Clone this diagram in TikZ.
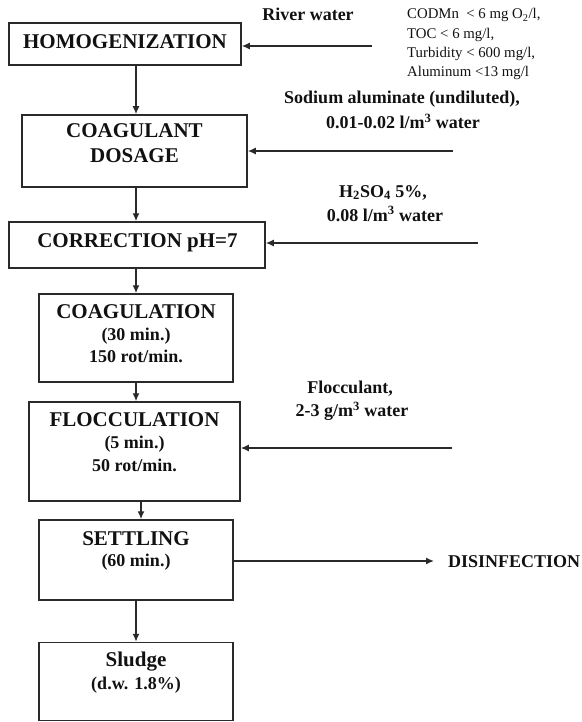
\documentclass[tikz,border=0pt]{standalone}
\usepackage{fontspec}
\setmainfont{Liberation Serif}
\usetikzlibrary{arrows.meta}
\definecolor{linec}{HTML}{2A2A2A}
\definecolor{txtc}{HTML}{111111}
\begin{document}
\begin{tikzpicture}[x=1pt,y=-1pt,
  box/.style 2 args={draw=linec, line width=1.5pt, rectangle, minimum width=#1, minimum height=#2, inner sep=0pt},
  ttl/.style={anchor=base, inner sep=0pt, text=txtc, font=\bfseries\fontsize{21}{24}\selectfont},
  sub/.style={anchor=base, inner sep=0pt, text=txtc, font=\bfseries\fontsize{18}{22}\selectfont},
  lbl/.style={anchor=base, inner sep=0pt, text=txtc, font=\bfseries\fontsize{18}{22}\selectfont},
  cond/.style={anchor=base west, inner sep=0pt, text=txtc, font=\fontsize{14.8}{18}\selectfont},
  arr/.style={draw=linec, line width=1.4pt, -{Latex[length=8pt,width=7pt]}}]
\useasboundingbox (0,0) rectangle (581,722);

% boxes
\node[box={232pt}{42pt}] (homog) at (125,44) {};
\node[box={225pt}{72pt}] (coag) at (134.5,151) {};
\node[box={256pt}{46pt}] (corr) at (137,245) {};
\node[box={194pt}{88pt}] (coagul) at (136,338) {};
\node[box={211pt}{99pt}] (flocc) at (134.5,451.5) {};
\node[box={194pt}{80pt}] (settl) at (136,560) {};
\node[box={194pt}{78pt}] (sludge) at (136,681.5) {};

% box texts
\node[ttl] (homogT) at (125,48.5) {HOMOGENIZATION};
\node[ttl] (coagT1) at (134.5,138) {COAGULANT};
\node[ttl] (coagT2) at (134.5,163) {DOSAGE};
\node[ttl] (corrT) at (137.5,247) {CORRECTION pH=7};
\node[ttl] (coagulT1) at (136,318) {COAGULATION};
\node[sub] (coagulT2) at (136,340.5) {(30 min.)};
\node[sub] (coagulT3) at (136,362.5) {150 rot/min.};
\node[ttl] (floccT1) at (134.5,426) {FLOCCULATION};
\node[sub] (floccT2) at (134.5,448.5) {(5 min.)};
\node[sub] (floccT3) at (134.5,471) {50 rot/min.};
\node[ttl] (settlT1) at (136,545) {SETTLING};
\node[sub] (settlT2) at (136,566.5) {(60 min.)};
\node[ttl] (sludgeT1) at (136,666.5) {Sludge};
\node[sub] (sludgeT2) at (136,689) {(d.w. 1.8\%)};

% input labels
\node[lbl] (river) at (308,20.5) {River water};
\node[cond] (c1) at (407,19) {CODMn\ \ {<} 6 mg O\textsubscript{2}/l,};
\node[cond] (c2) at (407,38.3) {TOC {<} 6 mg/l,};
\node[cond] (c3) at (407,57.6) {Turbidity {<} 600 mg/l,};
\node[cond] (c4) at (407,77) {Aluminum {<}13 mg/l};
\node[lbl] (sod1) at (402,104) {Sodium aluminate (undiluted),};
\node[lbl] (sod2) at (403,128.5) {0.01-0.02 l/m\textsuperscript{3} water};
\node[lbl] (acid1) at (383,197) {H\textsubscript{2}SO\textsubscript{4} 5\%,};
\node[lbl] (acid2) at (385,221) {0.08 l/m\textsuperscript{3} water};
\node[lbl] (floc1) at (350,393) {Flocculant,};
\node[lbl] (floc2) at (352,416.5) {2-3 g/m\textsuperscript{3} water};
\node[lbl, anchor=base west] (dis) at (448,567.5) {DISINFECTION};

% main flow
\coordinate (ax) at (136,0);
\coordinate (ax2) at (141,0);
\draw[arr] (homog.south -| ax) -- (coag.north -| ax);
\draw[arr] (coag.south -| ax) -- (corr.north -| ax);
\draw[arr] (corr.south -| ax) -- (coagul.north -| ax);
\draw[arr] (coagul.south -| ax) -- (flocc.north -| ax);
\draw[arr] (flocc.south -| ax2) -- (settl.north -| ax2);
\draw[arr] (settl.south -| ax) -- (sludge.north -| ax);

% inputs
\coordinate (in1) at (372,46);
\coordinate (in2) at (453,151);
\coordinate (in3) at (478,243);
\coordinate (in4) at (452,448);
\draw[arr] (in1) -- (homog.east |- in1);
\draw[arr] (in2) -- (coag.east |- in2);
\draw[arr] (in3) -- (corr.east |- in3);
\draw[arr] (in4) -- (flocc.east |- in4);

% output
\coordinate (out) at (434,561);
\draw[arr] (settl.east |- out) -- (out);
\end{tikzpicture}
\end{document}
